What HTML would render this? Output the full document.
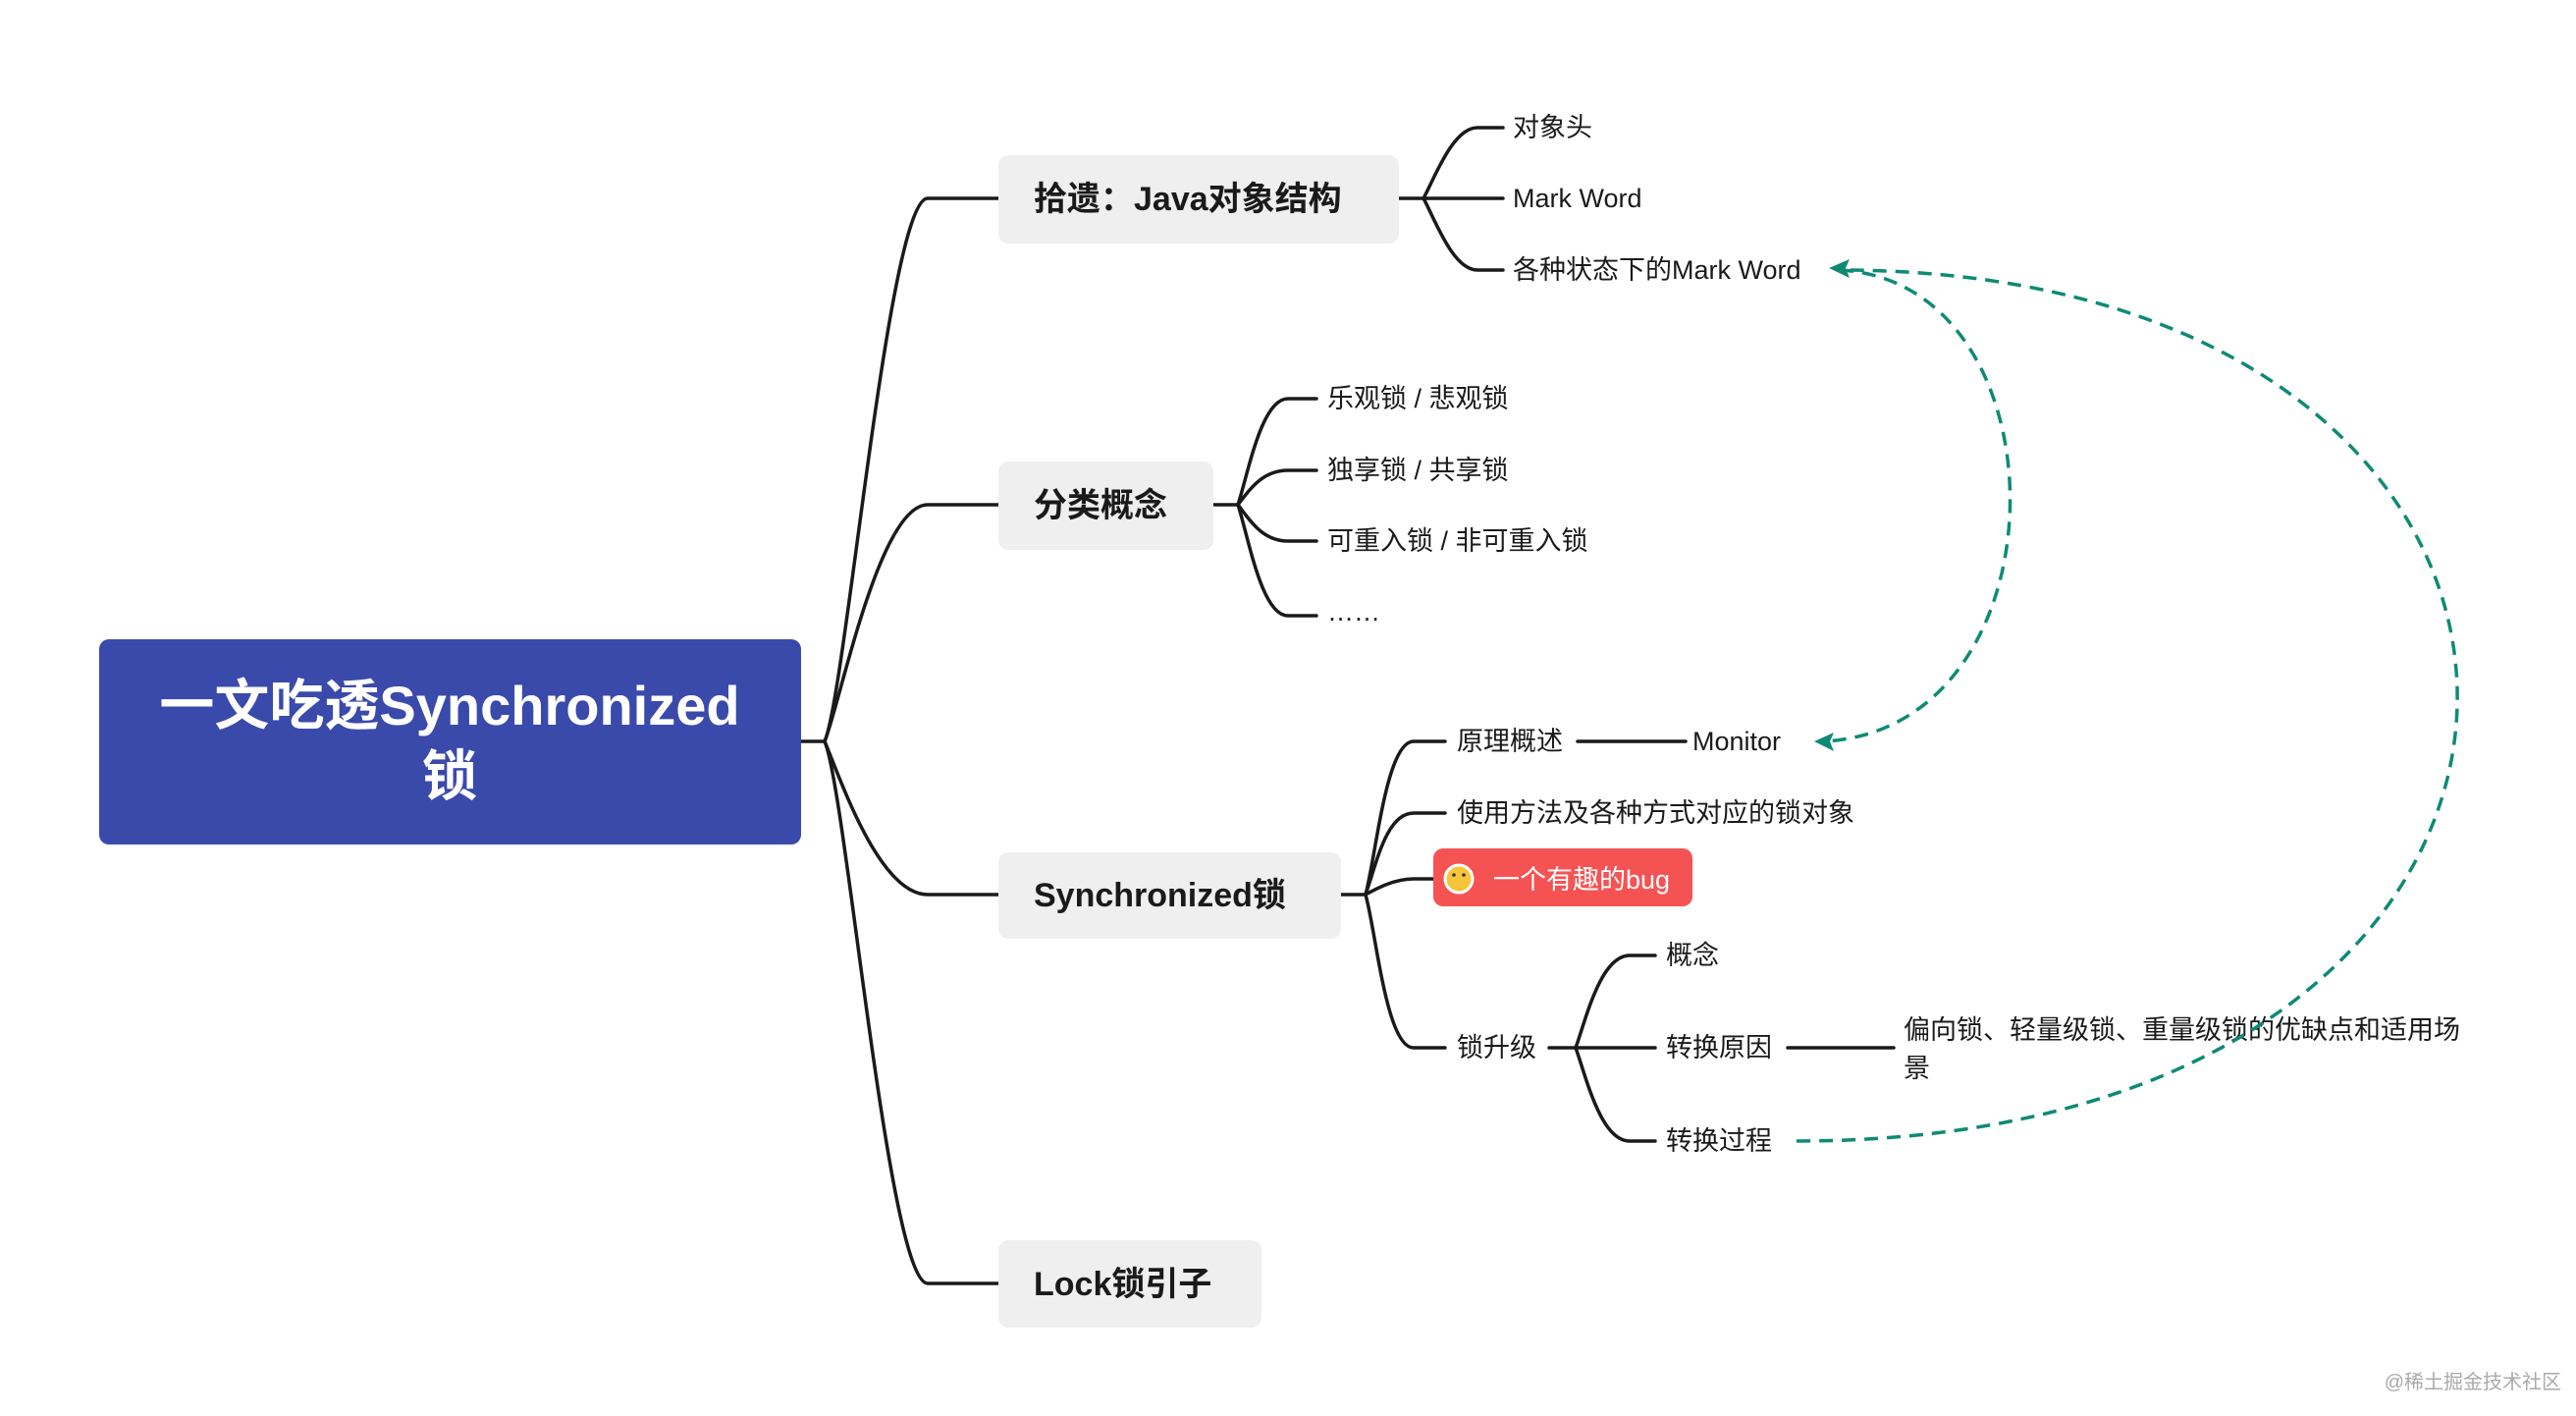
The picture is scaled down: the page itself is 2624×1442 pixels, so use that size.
<!DOCTYPE html>
<html><head><meta charset="utf-8"><style>
html,body{margin:0;padding:0;background:#fff;}
svg{display:block;}
text{font-family:"Liberation Sans","Noto Sans CJK SC",sans-serif;}
</style></head><body>
<svg width="2624" height="1442" viewBox="0 0 2624 1442" xmlns="http://www.w3.org/2000/svg">
<rect width="2624" height="1442" fill="#fff"/>
<g fill="none" stroke="#1a1a1a" stroke-width="3.5" stroke-linecap="round">
<!-- root trunk -->
<path d="M816 755 L840 755"/>
<path d="M840 755 C862 705 905 202 945 202 L1017 202"/>
<path d="M840 755 C855 720 895 514 945 514 L1017 514"/>
<path d="M840 755 C855 790 895 911 945 911 L1017 911"/>
<path d="M840 755 C862 805 905 1307 945 1307 L1017 1307"/>
<!-- branch1 -->
<path d="M1425 202 L1531 202"/>
<path d="M1450 202 C1462 180 1480 130 1505 130 L1531 130"/>
<path d="M1450 202 C1462 224 1480 275 1505 275 L1531 275"/>
<!-- branch2 -->
<path d="M1236 514 L1261 514"/>
<path d="M1261 514 C1272 480 1285 406 1312 406 L1341 406"/>
<path d="M1261 514 C1272 500 1285 479 1312 479 L1341 479"/>
<path d="M1261 514 C1272 528 1285 551 1312 551 L1341 551"/>
<path d="M1261 514 C1272 548 1285 627 1312 627 L1341 627"/>
<!-- branch3 -->
<path d="M1366 911 L1391 911"/>
<path d="M1391 911 C1402 870 1412 755 1440 755 L1472 755"/>
<path d="M1391 911 C1402 880 1412 828 1440 828 L1472 828"/>
<path d="M1391 911 C1402 905 1420 895 1440 895 L1460 895"/>
<path d="M1391 911 C1402 950 1412 1067 1440 1067 L1472 1067"/>
<path d="M1607 755 L1717 755"/>
<!-- 锁升级 -->
<path d="M1578 1067 L1686 1067"/>
<path d="M1605 1067 C1615 1040 1630 973 1660 973 L1686 973"/>
<path d="M1605 1067 C1615 1094 1630 1162 1660 1162 L1686 1162"/>
<path d="M1821 1067 L1929 1067"/>
</g>
<!-- boxes -->
<rect x="101" y="651" width="715" height="209" rx="10" fill="#3a4aab"/>
<text x="458" y="738" font-size="56" font-weight="bold" fill="#fff" text-anchor="middle">一文吃透Synchronized</text>
<text x="458" y="810" font-size="56" font-weight="bold" fill="#fff" text-anchor="middle">锁</text>
<rect x="1017" y="158" width="408" height="90" rx="10" fill="#efefef"/>
<text x="1053" y="214" font-size="34" font-weight="bold" fill="#1a1a1a">拾遗：Java对象结构</text>
<rect x="1017" y="470" width="219" height="90" rx="10" fill="#efefef"/>
<text x="1053" y="526" font-size="34" font-weight="bold" fill="#1a1a1a">分类概念</text>
<rect x="1017" y="868" width="349" height="88" rx="10" fill="#efefef"/>
<text x="1053" y="923" font-size="34" font-weight="bold" fill="#1a1a1a">Synchronized锁</text>
<rect x="1017" y="1263" width="268" height="89" rx="10" fill="#efefef"/>
<text x="1053" y="1319" font-size="34" font-weight="bold" fill="#1a1a1a">Lock锁引子</text>
<g font-size="27" fill="#1a1a1a">
<text x="1541" y="139">对象头</text>
<text x="1541" y="211">Mark Word</text>
<text x="1541" y="284">各种状态下的Mark Word</text>
<text x="1352" y="415">乐观锁 / 悲观锁</text>
<text x="1352" y="488">独享锁 / 共享锁</text>
<text x="1352" y="560">可重入锁 / 非可重入锁</text>
<text x="1352" y="632">……</text>
<text x="1484" y="764">原理概述</text>
<text x="1724" y="764">Monitor</text>
<text x="1484" y="837">使用方法及各种方式对应的锁对象</text>
<text x="1484" y="1076">锁升级</text>
<text x="1697" y="982">概念</text>
<text x="1697" y="1076">转换原因</text>
<text x="1697" y="1171">转换过程</text>
<text x="1939" y="1058">偏向锁、轻量级锁、重量级锁的优缺点和适用场</text>
<text x="1939" y="1097">景</text>
</g>
<rect x="1460" y="864" width="264" height="59" rx="10" fill="#f55353"/>
<circle cx="1486" cy="895" r="14" fill="#f6c53a" stroke="#fff" stroke-width="3"/>
<circle cx="1481" cy="891" r="1.8" fill="#333"/><circle cx="1491" cy="891" r="1.8" fill="#333"/>
<text x="1521" y="905" font-size="27" fill="#fff">一个有趣的bug</text>
<!-- dashed -->
<g fill="none" stroke="#0e8a74" stroke-width="3.5" stroke-dasharray="14 9">
<path d="M1874 275 C2108 287 2108 742 1858 755"/>
<path d="M1830 1162 C2720 1162 2720 275 1874 275"/>
</g>
<polygon points="1863,273 1884,264 1880,273 1884,283" fill="#0e8a74"/>
<polygon points="1848,755 1868,746 1864,755 1868,765" fill="#0e8a74"/>
<text x="2609" y="1414" font-size="20" fill="#aaa" text-anchor="end">@稀土掘金技术社区</text>
</svg>
</body></html>
